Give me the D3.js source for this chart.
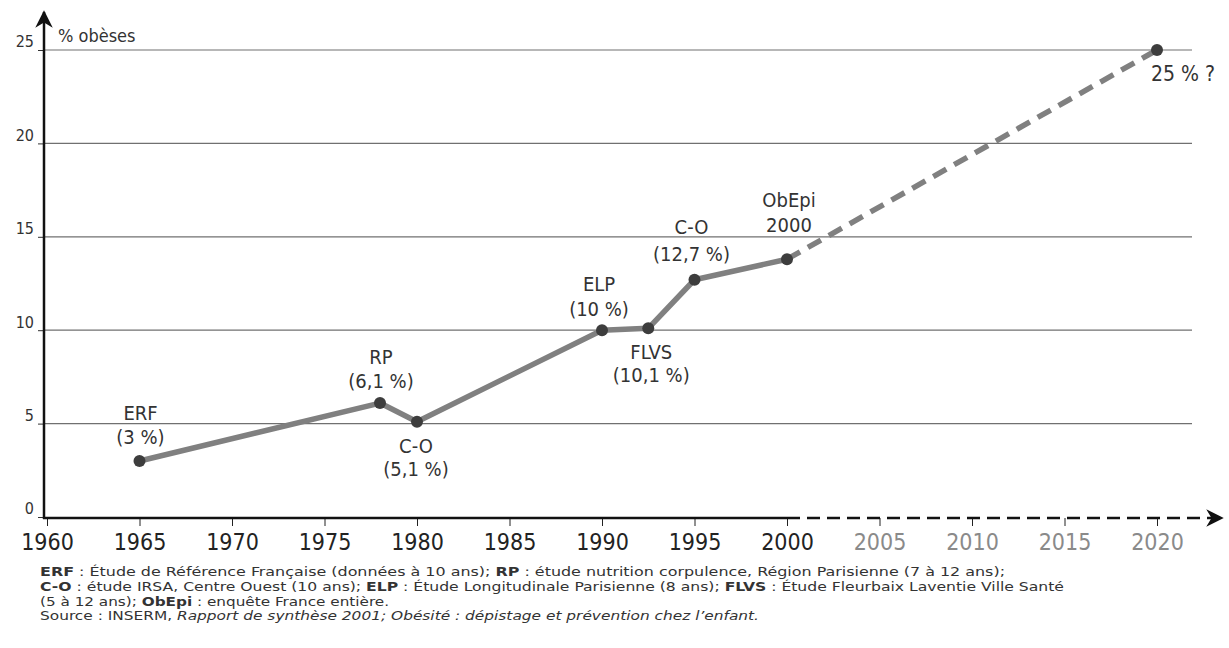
<!DOCTYPE html>
<html>
<head>
<meta charset="utf-8">
<script src="https://cdn.jsdelivr.net/npm/d3@7"></script>
<style>
  body { margin: 0; background: #fff; }
  svg text { font-family: "DejaVu Sans Condensed", "DejaVu Sans", sans-serif; }
</style>
</head>
<body>
<div id="hook-chart"></div>
<script>
'use strict';

// survey points (year, % obese)
var years = [1965, 1978, 1980, 1990, 1992.5, 1995, 2000];
var values = [3, 6.1, 5.1, 10, 10.1, 12.7, 13.8];
var labelTop = ['ERF', 'RP', 'C-O', 'ELP', 'FLVS', 'C-O', 'ObEpi'];
var labelBottom = ['(3 %)', '(6,1 %)', '(5,1 %)', '(10 %)', '(10,1 %)', '(12,7 %)', '2000'];

// projection
var projYears = [2000, 2020];
var projValues = [13.8, 25];
var projLabel = '25 % ?';

var xTicks = [1960, 1965, 1970, 1975, 1980, 1985, 1990, 1995, 2000, 2005, 2010, 2015, 2020];
var yTicks = [0, 5, 10, 15, 20, 25];

var notes = [
  [['b', 'ERF'], ['n', ' : Étude de Référence Française (données à 10 ans); '], ['b', 'RP'], ['n', ' : étude nutrition corpulence, Région Parisienne (7 à 12 ans);']],
  [['b', 'C-O'], ['n', ' : étude IRSA, Centre Ouest (10 ans); '], ['b', 'ELP'], ['n', ' : Étude Longitudinale Parisienne (8 ans); '], ['b', 'FLVS'], ['n', ' : Étude Fleurbaix Laventie Ville Santé']],
  [['n', '(5 à 12 ans); '], ['b', 'ObEpi'], ['n', ' : enquête France entière.']],
  [['n', 'Source : INSERM, '], ['i', 'Rapport de synthèse 2001; Obésité : dépistage et prévention chez l’enfant.']]
];

var width = 1229, height = 648;

var svg = d3.select('#hook-chart')
  .append('svg')
  .attr('width', width)
  .attr('height', height);

var x = d3.scaleLinear().domain([1960, 2020]).range([47, 1157]);
var y = d3.scaleLinear().domain([0, 25]).range([517, 50]);

var defs = svg.append('defs');
defs.append('marker')
  .attr('id', 'arrow')
  .attr('viewBox', '0 0 10 10')
  .attr('refX', 9).attr('refY', 5)
  .attr('markerWidth', 7).attr('markerHeight', 7)
  .attr('orient', 'auto')
  .append('path')
  .attr('d', 'M0,0 L10,5 L0,10 L3,5 Z')
  .style('fill', '#111');

// gridlines
svg.append('g')
  .selectAll('line')
  .data(yTicks.filter(function(d) { return d > 0; }))
  .enter().append('line')
  .attr('x1', x(1960) - 3).attr('x2', 1192)
  .attr('y1', function(d) { return y(d); })
  .attr('y2', function(d) { return y(d); })
  .style('stroke', '#707070')
  .style('stroke-width', 1.2);

// y axis
var yAxis = svg.append('g')
  .attr('transform', 'translate(' + (x(1960) - 3) + ',0)')
  .call(d3.axisLeft(y).tickValues(yTicks).tickSize(6).tickPadding(4));
yAxis.select('.domain').remove();
yAxis.selectAll('text')
  .attr('dy', '-0.2em')
  .style('font-size', '16px')
  .style('fill', '#333');
yAxis.selectAll('line').style('stroke', '#333');

svg.append('line')
  .attr('x1', x(1960) - 3).attr('x2', x(1960) - 3)
  .attr('y1', y(0) + 2).attr('y2', 12)
  .style('stroke', '#111').style('stroke-width', 2.5)
  .attr('marker-end', 'url(#arrow)');

svg.append('text')
  .attr('x', 58).attr('y', 42)
  .style('font-size', '18px')
  .style('fill', '#333')
  .text('% obèses');

// x axis
var xAxis = svg.append('g')
  .attr('transform', 'translate(0,' + (y(0) + 1) + ')')
  .call(d3.axisBottom(x).tickValues(xTicks).tickFormat(d3.format('d')).tickSize(8).tickPadding(8));
xAxis.select('.domain').remove();
xAxis.selectAll('line').style('stroke', '#222');
xAxis.selectAll('text')
  .style('font-size', '23px')
  .style('fill', function(d) { return d > 2000 ? '#8a8a8a' : '#222'; });

svg.append('line')
  .attr('x1', x(1960) - 4).attr('x2', x(2000))
  .attr('y1', y(0) + 1).attr('y2', y(0) + 1)
  .style('stroke', '#111').style('stroke-width', 2.5);
svg.append('line')
  .attr('x1', x(2000)).attr('x2', 1222)
  .attr('y1', y(0) + 1).attr('y2', y(0) + 1)
  .style('stroke', '#111').style('stroke-width', 2.5)
  .style('stroke-dasharray', '13,7')
  .attr('marker-end', 'url(#arrow)');

// data lines
var pts = years.map(function(d, i) { return [d, values[i]]; });
var proj = projYears.map(function(d, i) { return [d, projValues[i]]; });
var line = d3.line()
  .x(function(d) { return x(d[0]); })
  .y(function(d) { return y(d[1]); });

svg.append('path')
  .datum(proj)
  .attr('d', line)
  .style('fill', 'none')
  .style('stroke', '#808080')
  .style('stroke-width', 5.5)
  .style('stroke-dasharray', '15,9');

svg.append('path')
  .datum(pts)
  .attr('d', line)
  .style('fill', 'none')
  .style('stroke', '#808080')
  .style('stroke-width', 5.5)
  .style('stroke-linejoin', 'round');

svg.append('g')
  .selectAll('circle')
  .data(pts.concat([proj[1]]))
  .enter().append('circle')
  .attr('cx', function(d) { return x(d[0]); })
  .attr('cy', function(d) { return y(d[1]); })
  .attr('r', 6)
  .style('fill', '#3d3d3d');

// label placement relative to each point: [dx, dy first line, dy second line]
var place = [[1, -41, -17], [1, -39, -15], [-1, 31, 54], [-3, -39, -14], [3, 31, 54], [-3, -46, -19], [2, -52, -27]];

var labels = svg.append('g')
  .selectAll('g')
  .data(pts)
  .enter().append('g')
  .attr('transform', function(d, i) {
    return 'translate(' + (x(d[0]) + place[i][0]) + ',' + y(d[1]) + ')';
  });
labels.append('text')
  .attr('text-anchor', 'middle')
  .attr('y', function(d, i) { return place[i][1]; })
  .style('font-size', '20px')
  .style('fill', '#333')
  .text(function(d, i) { return labelTop[i]; });
labels.append('text')
  .attr('text-anchor', 'middle')
  .attr('y', function(d, i) { return place[i][2]; })
  .style('font-size', '20px')
  .style('fill', '#333')
  .text(function(d, i) { return labelBottom[i]; });

svg.append('text')
  .attr('x', x(2020) - 6).attr('y', y(25) + 31)
  .style('font-size', '21px')
  .style('fill', '#333')
  .text(projLabel);

// footnotes
var noteEnds = [1005, 1064, 389, 759];
var foot = svg.append('g');
notes.forEach(function(row, i) {
  var t = foot.append('text')
    .attr('x', 40)
    .attr('y', 576 + i * 14.8)
    .attr('textLength', noteEnds[i] - 40)
    .attr('lengthAdjust', 'spacingAndGlyphs')
    .style('font-size', '12.5px')
    .style('fill', '#333');
  row.forEach(function(part) {
    t.append('tspan')
      .style('font-weight', part[0] == 'b' ? 'bold' : 'normal')
      .style('font-style', part[0] == 'i' ? 'italic' : 'normal')
      .text(part[1]);
  });
});
</script>
</body>
</html>
